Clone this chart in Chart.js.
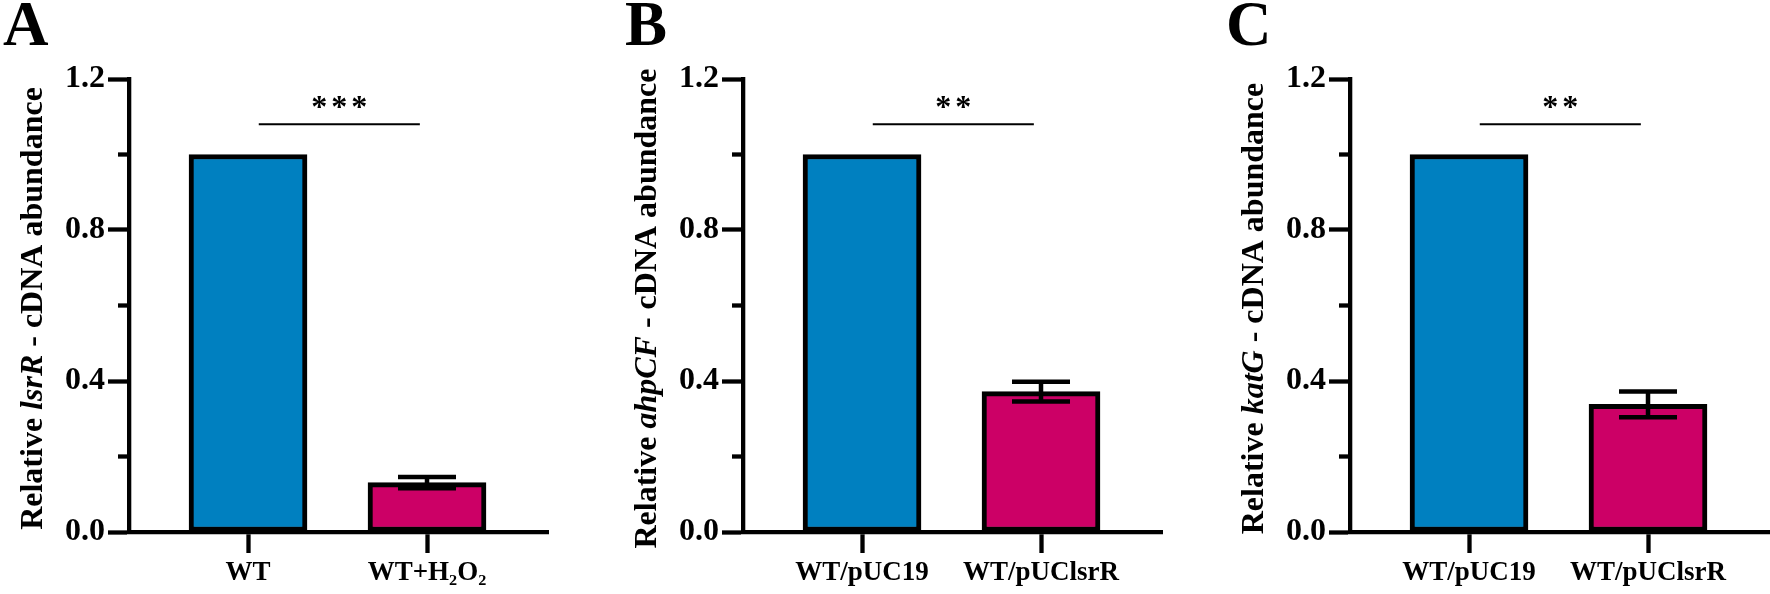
<!DOCTYPE html>
<html>
<head>
<meta charset="utf-8">
<script src="https://cdn.jsdelivr.net/npm/chart.js@4.4.1/dist/chart.umd.min.js"></script>
<style>
  body { margin: 0; background: #fff; width: 1770px; height: 594px; position: relative; overflow: hidden; }
  canvas { position: absolute; top: 0; }
</style>
</head>
<body>
<canvas id="chA" width="600" height="594" style="left:0px"></canvas>
<canvas id="chB" width="600" height="594" style="left:600px"></canvas>
<canvas id="chC" width="570" height="594" style="left:1200px"></canvas>
<script>
// groups on the x axis
var groupsA = ['WT', 'WT+H\u2082O\u2082'];
var groupsBC = ['WT/pUC19', 'WT/pUClsrR'];

// relative cDNA abundance (mean) and error
var lsrR = [1.0, 0.131];
var lsrRErr = [0, 0.015];
var ahpCF = [1.0, 0.372];
var ahpCFErr = [0, 0.026];
var katG = [1.0, 0.338];
var katGErr = [0, 0.034];

// y axis ticks
var yTicks = [0, 0.4, 0.8, 1.2];
var yMinor = [0.2, 0.6, 1.0];

// significance marks: line from / to (in group units), height
var sigSpan = [0.06, 0.96];
var sigLevel = 1.08;
var starLevel = 1.14;

var barColors = ['#0080c0', '#cc0066'];
var serif = '"Liberation Serif", "Times New Roman", serif';

// draws minor ticks, error bars, significance line, y title and panel letter
function makeExtras(p) {
  return {
    id: 'extras',
    afterDatasetsDraw: function(chart) {
      var ctx = chart.ctx, xs = chart.scales.x, ys = chart.scales.y, area = chart.chartArea;
      ctx.save();
      ctx.strokeStyle = '#000';
      ctx.fillStyle = '#000';

      // minor ticks
      ctx.lineWidth = 4.3;
      yMinor.forEach(function(v) {
        var py = ys.getPixelForValue(v);
        ctx.beginPath();
        ctx.moveTo(area.left, py);
        ctx.lineTo(area.left - 11, py);
        ctx.stroke();
      });

      // error bars
      ctx.lineWidth = 4.5;
      p.values.forEach(function(v, i) {
        var e = p.errs[i];
        if (!e) return;
        var px = xs.getPixelForValue(i);
        var top = ys.getPixelForValue(v + e), bot = ys.getPixelForValue(v - e);
        ctx.beginPath();
        ctx.moveTo(px, top); ctx.lineTo(px, bot);
        ctx.moveTo(px - 29, top); ctx.lineTo(px + 29, top);
        ctx.moveTo(px - 29, bot); ctx.lineTo(px + 29, bot);
        ctx.stroke();
      });

      // significance line + stars
      var x1 = xs.getPixelForValue(sigSpan[0]), x2 = xs.getPixelForValue(sigSpan[1]);
      var ly = ys.getPixelForValue(sigLevel);
      ctx.lineWidth = 2;
      ctx.beginPath();
      ctx.moveTo(x1, ly); ctx.lineTo(x2, ly);
      ctx.stroke();
      ctx.font = 'bold 32px ' + serif;
      ctx.textAlign = 'center';
      ctx.textBaseline = 'alphabetic';
      var sy = ys.getPixelForValue(starLevel) + 15;
      var cx = (x1 + x2) / 2;
      var n = p.stars.length;
      for (var k = 0; k < n; k++) {
        ctx.fillText('*', cx + (k - (n - 1) / 2) * 20, sy);
      }

      // y axis title with italic gene name
      var parts = [
        {t: 'Relative ', f: 'bold 32px ' + serif},
        {t: p.gene, f: 'italic bold 32px ' + serif},
        {t: ' - cDNA abundance', f: 'bold 32px ' + serif}
      ];
      var total = 0;
      parts.forEach(function(s) { ctx.font = s.f; s.w = ctx.measureText(s.t).width; total += s.w; });
      ctx.translate(area.left - 87, (area.top + area.bottom) / 2 + 3);
      ctx.rotate(-Math.PI / 2);
      ctx.textAlign = 'left';
      var tx = -total / 2;
      parts.forEach(function(s) { ctx.font = s.f; ctx.fillText(s.t, tx, 0); tx += s.w; });
      ctx.setTransform(1, 0, 0, 1, 0, 0);

      // panel letter
      ctx.font = 'bold 63px ' + serif;
      ctx.textAlign = 'left';
      ctx.fillText(p.letter, p.letterX, 45);
      ctx.restore();
    }
  };
}

function makePanel(id, canvasLeft, canvasW, axisX, p) {
  var left = axisX - canvasLeft;
  var yWidth = 80;
  var labels = p.labels;
  new Chart(document.getElementById(id), {
    type: 'bar',
    data: {
      datasets: [{
        data: p.values.map(function(v, i) { return {x: i, y: v}; }),
        backgroundColor: barColors,
        borderColor: '#000',
        borderWidth: 5,
        borderSkipped: false,
        barThickness: 118
      }]
    },
    options: {
      responsive: false,
      animation: false,
      devicePixelRatio: 1,
      layout: {padding: {left: left - yWidth, right: canvasW - (left + 419), top: 79, bottom: 0}},
      plugins: {legend: {display: false}, tooltip: {enabled: false}},
      scales: {
        x: {
          type: 'linear',
          min: -0.665,
          max: 1.676,
          offset: false,
          afterBuildTicks: function(s) { s.ticks = labels.map(function(l, i) { return {value: i}; }); },
          afterFit: function(s) { s.height = 594 - 532; },
          grid: {drawOnChartArea: false, drawTicks: true, tickLength: 21, tickWidth: 4.3, tickColor: '#000', offset: false},
          border: {display: true, color: '#000', width: 4.3},
          ticks: {
            callback: function(v) { return labels[v]; },
            color: '#000',
            font: {family: serif, size: 27, weight: 'bold'},
            padding: 4,
            maxRotation: 0,
            autoSkip: false
          }
        },
        y: {
          min: 0,
          max: 1.2,
          afterBuildTicks: function(s) { s.ticks = yTicks.map(function(v) { return {value: v}; }); },
          afterFit: function(s) { s.width = yWidth; },
          grid: {drawOnChartArea: false, drawTicks: true, tickLength: 21, tickWidth: 4.3, tickColor: '#000'},
          border: {display: true, color: '#000', width: 4.3},
          ticks: {
            callback: function(v) { return v.toFixed(1); },
            color: '#000',
            font: {family: serif, size: 32, weight: 'bold'},
            padding: 3
          }
        }
      }
    },
    plugins: [makeExtras(p)]
  });
}

makePanel('chA', 0, 600, 129, {labels: groupsA, values: lsrR, errs: lsrRErr, gene: 'lsrR', stars: '***', letter: 'A', letterX: 3});
makePanel('chB', 600, 600, 743, {labels: groupsBC, values: ahpCF, errs: ahpCFErr, gene: 'ahpCF', stars: '**', letter: 'B', letterX: 25});
makePanel('chC', 1200, 570, 1350, {labels: groupsBC, values: katG, errs: katGErr, gene: 'katG', stars: '**', letter: 'C', letterX: 26});
</script>
</body>
</html>
